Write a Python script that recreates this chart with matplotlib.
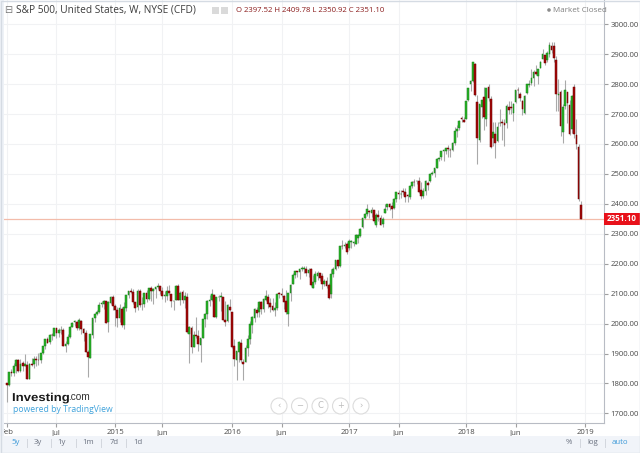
import numpy as np
import pandas as pd
import matplotlib
matplotlib.use('Agg')
import matplotlib.pyplot as plt
from matplotlib.patches import Rectangle, Circle, PathPatch
from matplotlib.textpath import TextPath
from matplotlib.font_manager import FontProperties
from matplotlib.transforms import Affine2D

plt.rcParams['font.family'] = ['Open Sans', 'DejaVu Sans']

# weekly candles, S&P 500 CFD, first week starts 2014-02-03
first_week = '2014-02-03'
opens = [
    # 2014
    1800, 1796, 1838, 1836, 1857, 1878, 1842, 1867, 1858, 1863, 1816, 1865, 1864, 1881, 1878, 1877,
    1901, 1924, 1949, 1937, 1962, 1960, 1984, 1968, 1978, 1979, 1926, 1932, 1955, 1989, 2004, 2007,
    1986, 2009, 1983, 1968, 1906, 1886, 1962, 2018, 2032, 2039, 2065, 2066, 2074, 2005, 2069, 2088,
    # 2015
    2058, 2046, 2020, 2050, 1996, 2053, 2096, 2109, 2105, 2072, 2055, 2108, 2065, 2064, 2102, 2083,
    2119, 2110, 2115, 2122, 2125, 2108, 2093, 2092, 2110, 2098, 2075, 2080, 2127, 2078, 2104, 2080,
    2090, 1965, 1987, 1922, 1963, 1960, 1929, 1953, 2015, 2033, 2075, 2080, 2097, 2023, 2089, 2090,
    2090, 2013, 2010, 2057,
    # 2016
    2038, 1926, 1878, 1906, 1936, 1873, 1872, 1917, 1947, 1996, 2020, 2047, 2038, 2073, 2050, 2079,
    2090, 2068, 2058, 2047, 2052, 2100, 2100, 2092, 2075, 2031, 2102, 2131, 2162, 2175, 2173, 2183,
    2183, 2182, 2170, 2181, 2120, 2140, 2159, 2168, 2160, 2132, 2144, 2129, 2100, 2165, 2182, 2211,
    2194, 2259, 2259, 2266,
    # 2017
    2252, 2274, 2270, 2267, 2286, 2294, 2322, 2354, 2366, 2375, 2371, 2379, 2329, 2363, 2353, 2333,
    2370, 2388, 2400, 2393, 2387, 2416, 2437, 2432, 2442, 2440, 2431, 2424, 2460, 2473, 2475, 2477,
    2446, 2426, 2443, 2469, 2475, 2501, 2503, 2521, 2551, 2557, 2578, 2577, 2588, 2580, 2579, 2603,
    2645, 2655, 2686, 2680,
    # 2018
    2684, 2747, 2799, 2809, 2867, 2741, 2614, 2722, 2757, 2682, 2791, 2751, 2619, 2633, 2611, 2670,
    2675, 2669, 2670, 2722, 2725, 2705, 2741, 2780, 2766, 2742, 2704, 2769, 2797, 2805, 2819, 2840,
    2827, 2853, 2884, 2897, 2881, 2899, 2926, 2926, 2880, 2764, 2773, 2640, 2726, 2773, 2730, 2650,
    2790, 2630, 2591, 2397.52,
]
highs = [
    1802, 1840, 1847, 1867, 1883, 1882, 1883, 1875, 1897, 1875, 1869, 1884, 1891, 1891, 1902, 1901,
    1924, 1950, 1955, 1964, 1968, 1986, 1986, 1984, 1991, 1985, 1942, 1964, 1991, 2006, 2012, 2008,
    2019, 2011, 1985, 1977, 1912, 1965, 2019, 2034, 2046, 2071, 2076, 2079, 2075, 2077, 2093, 2094,
    2064, 2057, 2064, 2057, 2073, 2097, 2110, 2120, 2117, 2072, 2114, 2114, 2089, 2103, 2111, 2120,
    2126, 2120, 2123, 2135, 2127, 2122, 2110, 2126, 2129, 2099, 2080, 2128, 2133, 2110, 2113, 2106,
    2103, 1993, 1993, 1975, 2021, 1979, 1952, 2017, 2034, 2080, 2094, 2116, 2100, 2090, 2095, 2104,
    2090, 2077, 2067, 2082,
    2038, 1950, 1908, 1941, 1947, 1881, 1930, 1962, 2009, 2024, 2052, 2056, 2075, 2075, 2084, 2111,
    2099, 2084, 2084, 2071, 2100, 2106, 2120, 2095, 2113, 2103, 2131, 2169, 2176, 2177, 2184, 2194,
    2193, 2194, 2185, 2187, 2163, 2175, 2175, 2169, 2169, 2148, 2157, 2134, 2182, 2189, 2214, 2214,
    2260, 2278, 2274, 2273,
    2282, 2279, 2277, 2301, 2300, 2319, 2352, 2368, 2401, 2378, 2391, 2381, 2371, 2378, 2363, 2356,
    2398, 2400, 2404, 2406, 2419, 2440, 2447, 2446, 2454, 2453, 2433, 2463, 2478, 2484, 2480, 2490,
    2474, 2454, 2481, 2475, 2501, 2509, 2520, 2552, 2555, 2576, 2582, 2588, 2597, 2585, 2605, 2657,
    2665, 2680, 2695, 2689,
    2744, 2787, 2813, 2873, 2870, 2763, 2735, 2748, 2790, 2787, 2802, 2761, 2674, 2672, 2674, 2718,
    2683, 2683, 2733, 2742, 2742, 2737, 2779, 2791, 2774, 2747, 2764, 2802, 2814, 2849, 2848, 2864,
    2852, 2877, 2916, 2898, 2909, 2941, 2940, 2940, 2894, 2816, 2779, 2733, 2815, 2775, 2747, 2765,
    2800, 2685, 2601, 2409.78,
]
lows = [
    1738, 1791, 1824, 1825, 1834, 1839, 1839, 1842, 1858, 1814, 1816, 1859, 1851, 1859, 1862, 1868,
    1900, 1915, 1934, 1932, 1944, 1958, 1952, 1955, 1965, 1925, 1904, 1928, 1953, 1989, 1992, 1980,
    1978, 1965, 1941, 1906, 1821, 1886, 1951, 2005, 2030, 2034, 2056, 2049, 2002, 1972, 2067, 2046,
    1992, 1988, 2004, 1989, 1981, 2041, 2085, 2103, 2066, 2039, 2045, 2055, 2045, 2056, 2072, 2080,
    2077, 2067, 2085, 2115, 2099, 2083, 2072, 2079, 2097, 2056, 2044, 2080, 2078, 2063, 2069, 2052,
    1970, 1867, 1903, 1921, 1953, 1908, 1872, 1951, 1990, 2017, 2060, 2076, 2022, 2020, 2074, 2043,
    2012, 1993, 2005, 2043,
    1918, 1857, 1812, 1872, 1872, 1810, 1872, 1891, 1931, 1970, 2005, 2023, 2022, 2033, 2039, 2074,
    2053, 2039, 2043, 2025, 2047, 2085, 2089, 2050, 2032, 1992, 2074, 2131, 2154, 2156, 2148, 2177,
    2168, 2159, 2157, 2127, 2119, 2132, 2145, 2142, 2114, 2125, 2119, 2083, 2084, 2156, 2180, 2187,
    2190, 2248, 2253, 2233,
    2245, 2254, 2258, 2266, 2268, 2288, 2321, 2348, 2358, 2354, 2357, 2336, 2322, 2344, 2328, 2322,
    2368, 2379, 2381, 2353, 2382, 2405, 2415, 2418, 2430, 2406, 2407, 2415, 2452, 2459, 2465, 2437,
    2417, 2418, 2429, 2446, 2474, 2496, 2489, 2521, 2543, 2547, 2544, 2566, 2557, 2557, 2575, 2597,
    2624, 2647, 2673, 2673,
    2682, 2743, 2778, 2808, 2759, 2533, 2605, 2687, 2648, 2661, 2743, 2586, 2593, 2553, 2605, 2660,
    2612, 2594, 2652, 2701, 2700, 2676, 2736, 2754, 2742, 2698, 2699, 2768, 2789, 2798, 2795, 2830,
    2802, 2853, 2884, 2864, 2875, 2891, 2903, 2874, 2710, 2710, 2628, 2603, 2716, 2670, 2631, 2636,
    2621, 2584, 2409, 2350.92,
]
closes = [
    1795, 1838.6, 1836.3, 1859.5, 1878.0, 1841.1, 1866.5, 1857.6, 1865.1, 1815.7, 1864.9, 1863.4,
    1881.1, 1878.5, 1877.9, 1900.5, 1923.6, 1949.4, 1936.2, 1962.9, 1961.0, 1985.4, 1967.6, 1978.2,
    1978.3, 1925.2, 1931.6, 1955.1, 1988.4, 2003.4, 2007.7, 1985.5, 2010.4, 1982.9, 1967.9, 1906.1,
    1886.8, 1964.6, 2018.1, 2031.9, 2039.8, 2063.5, 2067.6, 2075.4, 2002.3, 2070.7, 2088.8, 2058.2,
    2044.8, 2019.4, 2051.8, 1995.0, 2055.5, 2097.0, 2110.3, 2104.5, 2071.3, 2053.4, 2108.1, 2061.0,
    2067.0, 2102.1, 2081.2, 2117.7, 2108.3, 2116.1, 2122.7, 2126.1, 2107.4, 2092.8, 2094.1, 2110.0,
    2101.5, 2076.8, 2076.6, 2126.6, 2079.7, 2103.8, 2077.6, 2091.5, 1970.9, 1988.9, 1921.2, 1961.1,
    1958.0, 1931.3, 1951.4, 2014.9, 2033.1, 2075.2, 2079.4, 2099.2, 2023.0, 2089.2, 2090.1, 2091.7,
    2012.4, 2005.6, 2061.0, 2043.9,
    1922.0, 1880.3, 1906.9, 1940.2, 1880.1, 1864.8, 1917.8, 1948.1, 2000.0, 2022.2, 2049.6, 2035.9,
    2072.8, 2047.6, 2080.7, 2091.6, 2065.3, 2057.1, 2046.6, 2052.3, 2099.1, 2099.1, 2096.1, 2071.2,
    2037.4, 2103.0, 2129.9, 2161.7, 2175.0, 2173.6, 2182.9, 2184.1, 2183.9, 2169.0, 2180.0, 2127.8,
    2139.2, 2164.7, 2168.3, 2153.7, 2133.0, 2141.2, 2126.4, 2085.2, 2164.5, 2181.9, 2213.4, 2192.0,
    2259.5, 2258.1, 2263.8, 2238.8,
    2277.0, 2274.6, 2271.3, 2294.7, 2297.4, 2316.1, 2351.2, 2367.3, 2383.1, 2372.6, 2378.3, 2344.0,
    2362.7, 2355.5, 2329.0, 2348.7, 2384.2, 2399.3, 2390.9, 2381.7, 2415.8, 2439.1, 2431.8, 2433.2,
    2438.3, 2423.4, 2425.2, 2459.3, 2472.5, 2472.1, 2476.8, 2441.3, 2425.6, 2443.1, 2476.6, 2461.4,
    2500.2, 2502.2, 2519.4, 2549.3, 2553.2, 2575.2, 2581.1, 2587.8, 2582.3, 2578.9, 2602.4, 2642.2,
    2651.5, 2675.8, 2683.3, 2673.6,
    2743.2, 2786.2, 2810.3, 2872.9, 2762.1, 2619.6, 2732.2, 2747.3, 2691.3, 2786.6, 2752.0, 2588.3,
    2640.9, 2604.5, 2656.3, 2670.1, 2669.9, 2663.4, 2727.7, 2713.0, 2721.3, 2734.6, 2779.0, 2779.7,
    2754.9, 2718.4, 2759.8, 2801.3, 2801.8, 2818.8, 2840.4, 2833.3, 2850.1, 2874.7, 2901.5, 2871.7,
    2905.0, 2929.7, 2914.0, 2885.6, 2767.1, 2767.8, 2658.7, 2723.1, 2781.0, 2736.3, 2632.6, 2760.2,
    2633.1, 2600.0, 2416.6, 2351.10,
]

month_ticks = [('Feb', 2014, 2), ('Jul', 2014, 7), ('2015', 2015, 1), ('Jun', 2015, 6),
               ('2016', 2016, 1), ('Jun', 2016, 6), ('2017', 2017, 1), ('Jun', 2017, 6),
               ('2018', 2018, 1), ('Jun', 2018, 6), ('2019', 2019, 1)]
price_ticks = list(range(1700, 3001, 100))
title = 'S&P 500, United States, W, NYSE (CFD)'
ranges_left = ['5y', '3y', '1y', '1m', '7d', '1d']
ranges_right = ['%', 'log', 'auto']

o = np.array(opens, float)
h = np.array(highs, float)
l = np.array(lows, float)
c = np.array(closes, float)
x = np.arange(len(c))
up = c >= o
weeks = pd.date_range(first_week, periods=len(c) + 8, freq='W-MON')
tick_pos = [int(np.argmax((weeks.year == yy) & (weeks.month == mm))) for _, yy, mm in month_ticks]

W, H = 640, 453
fig = plt.figure(figsize=(6.4, 4.53), dpi=100)
ax = fig.add_axes([4 / W, (H - 423) / H, 600 / W, 423 / H])

ax.vlines(x, l, h, color='#a9a9a9', lw=0.8, zorder=2)
body_h = np.maximum(np.abs(c - o), 1.5)
ax.bar(x[up], body_h[up], bottom=np.minimum(o, c)[up], width=0.72,
       color='#26b426', edgecolor='#1b7d1b', linewidth=0.35, zorder=3)
ax.bar(x[~up], body_h[~up], bottom=np.minimum(o, c)[~up], width=0.72,
       color='#a30808', edgecolor='#6e0000', linewidth=0.35, zorder=3)

last = closes[-1]
ax.axhline(last, color='#f3bcaa', lw=0.9, zorder=1)

ax.set_xlim(-1.33, 265.3)
ax.set_ylim(1668, 3081)
ax.set_yticks(price_ticks)
ax.set_yticklabels(['{:.2f}'.format(p) for p in price_ticks])
ax.set_xticks(tick_pos)
ax.set_xticklabels([t[0] for t in month_ticks])
ax.yaxis.tick_right()
ax.tick_params(axis='y', length=3, pad=1.5, labelsize=5.6, colors='#4a4a4a')
ax.tick_params(axis='x', length=3, pad=1.5, labelsize=5.6, colors='#4a4a4a')
ax.tick_params(color='#a0a0a0')
ax.grid(color='#f1f2f4', lw=0.8, zorder=0)
ax.set_axisbelow(True)
for side in ['top', 'left']:
    ax.spines[side].set_visible(False)
for side in ['right', 'bottom']:
    ax.spines[side].set_color('#b8bcc4')
    ax.spines[side].set_linewidth(0.8)

# last price tag on the price scale (36 px wide, 12 px tall)
ytr = ax.get_yaxis_transform()
px_per_unit = 423 / (3081 - 1668)
ax.add_patch(Rectangle((1.0, last - 6 / px_per_unit), 36 / 600, 12 / px_per_unit,
                       transform=ytr, fc='#e8111a', ec='none', clip_on=False, zorder=6))
ax.text(1.0 + 18 / 600, last, '{:.2f}'.format(last), transform=ytr, ha='center', va='center',
        fontsize=5.8, color='white', weight='bold', zorder=7, clip_on=False)

# overlay in pixel coordinates for the widget decorations
ov = fig.add_axes([0, 0, 1, 1], zorder=5)
ov.set_xlim(0, W)
ov.set_ylim(H, 0)
ov.axis('off')
ov.patch.set_alpha(0)

ov.add_patch(Rectangle((0, 0), 3.5, 436, fc='#eef2f7', ec='none'))
ov.add_patch(Rectangle((0, 436), W, 17, fc='#f1f4f9', ec='none'))
ov.add_patch(Rectangle((0.5, 0.5), W - 1, H - 1, fill=False, ec='#d5dbe3', lw=1))

ov.text(8, 10, '⊟', fontsize=7, color='#7a7a7a', ha='center', va='center', family='DejaVu Sans')
ov.text(16, 10, title, fontsize=7.3, color='#3c3c3c', va='center')
ov.add_patch(Rectangle((212, 6.5), 7, 7, fc='#dadada', ec='none'))
ov.add_patch(Rectangle((221, 6.5), 7, 7, fc='#dadada', ec='none'))
ohlc = 'O {:.2f} H {:.2f} L {:.2f} C {:.2f}'.format(opens[-1], highs[-1], lows[-1], closes[-1])
ov.text(236, 10.5, ohlc, fontsize=5.6, color='#8b1c1c', va='center')
ov.add_patch(Circle((549, 10), 1.8, fc='#8c8c8c', ec='none'))
ov.text(553, 10, 'Market Closed', fontsize=5.8, color='#808080', va='center')

# logo: condensed bold word drawn as a squeezed text path
logo = TextPath((0, 0), 'Investing', size=14, prop=FontProperties(family='Liberation Sans', weight='bold'))
sx = 56 / logo.get_extents().width
ov.add_patch(PathPatch(logo, fc='#1a1a1a', ec='none',
                       transform=Affine2D().scale(sx, -0.82).translate(12, 401) + ov.transData))
ov.text(68.5, 397.5, '.com', fontsize=7.3, color='#333333', va='center', family='Liberation Sans')
ov.text(13, 410, 'powered by TradingView', fontsize=6.2, color='#3fa2db', va='center')

for cx, g in zip([279, 299.5, 320, 340.5, 361], ['‹', '−', 'C', '+', '›']):
    ov.add_patch(Circle((cx, 406), 8, fc='white', ec='#dcdcdc', lw=0.8))
    ov.text(cx, 406, g, fontsize=6, color='#bcbcbc', ha='center', va='center', family='DejaVu Sans')

for xs, lab in zip([15.7, 37.7, 61.7, 87.7, 114, 137.7], ranges_left):
    ov.text(xs, 443, lab, fontsize=5.6, ha='center', va='center',
            color='#3d9ad8' if lab == '5y' else '#6b7280')
for xs in [27, 51, 76, 101, 125.7, 580, 605]:
    ov.plot([xs, xs], [439, 447], color='#d3d7de', lw=0.7)
for xs, lab in zip([569.3, 592.7, 620], ranges_right):
    ov.text(xs, 443, lab, fontsize=5.6, ha='center', va='center',
            color='#3d9ad8' if lab == 'auto' else '#6b7280')

fig.savefig('out.png', dpi=100)
